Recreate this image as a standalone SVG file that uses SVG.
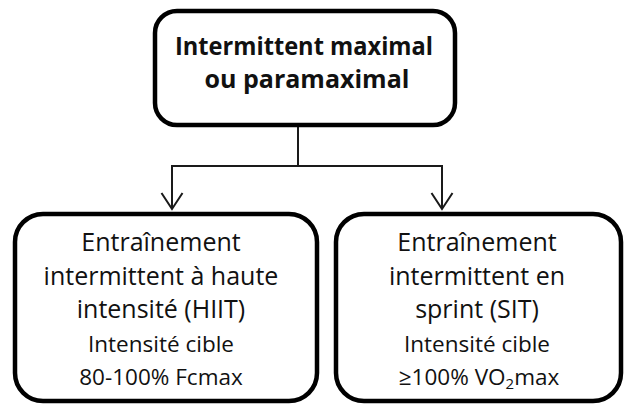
<svg xmlns="http://www.w3.org/2000/svg" width="625" height="406" viewBox="0 0 625 406">
<style>
.box{fill:#fff;stroke:#000;stroke-width:4.5}
.conn{fill:none;stroke:#1a1a1a;stroke-width:2}
.t{font-family:"Open Sans","Liberation Sans",sans-serif;fill:#111;text-anchor:middle}
.title{font-weight:bold;font-size:25px}
.big{font-size:25px}
.small{font-size:22.5px}
</style>
<defs>
<marker id="arr" markerUnits="userSpaceOnUse" markerWidth="20" markerHeight="26" viewBox="-1 -13 20 26" refX="17" refY="0" orient="auto">
<path d="M1,-10.5 L17,0 L1,10.5" fill="none" stroke="#1a1a1a" stroke-width="2"/>
</marker>
</defs>
<rect width="625" height="406" fill="#fff"/>
<g id="connectors">
<path class="conn" d="M298,126 V166 H172 V209" marker-end="url(#arr)"/>
<path class="conn" d="M298,166 H442 V209" marker-end="url(#arr)"/>
</g>
<g id="top">
<rect class="box" x="155" y="11" width="300" height="114" rx="22"/>
<text class="t title" x="304" y="55" textLength="258" lengthAdjust="spacingAndGlyphs">Intermittent maximal</text>
<text class="t title" x="307" y="88">ou paramaximal</text>
</g>
<g id="hiit">
<rect class="box" x="15" y="214" width="302" height="187" rx="28"/>
<text class="t big" x="161" y="251">Entraînement</text>
<text class="t big" x="161" y="285">intermittent à haute</text>
<text class="t big" x="161" y="318">intensité (HIIT)</text>
<text class="t small" x="161" y="352">Intensité cible</text>
<text class="t small" x="161" y="385">80-100% Fcmax</text>
</g>
<g id="sit">
<rect class="box" x="336" y="214" width="285" height="187" rx="28"/>
<text class="t big" x="477" y="251">Entraînement</text>
<text class="t big" x="477" y="285">intermittent en</text>
<text class="t big" x="477" y="318">sprint (SIT)</text>
<text class="t small" x="477" y="352">Intensité cible</text>
<text class="t small" x="479" y="385">≥100% VO<tspan font-size="15" dy="4">2</tspan><tspan dy="-4">max</tspan></text>
</g>
</svg>
